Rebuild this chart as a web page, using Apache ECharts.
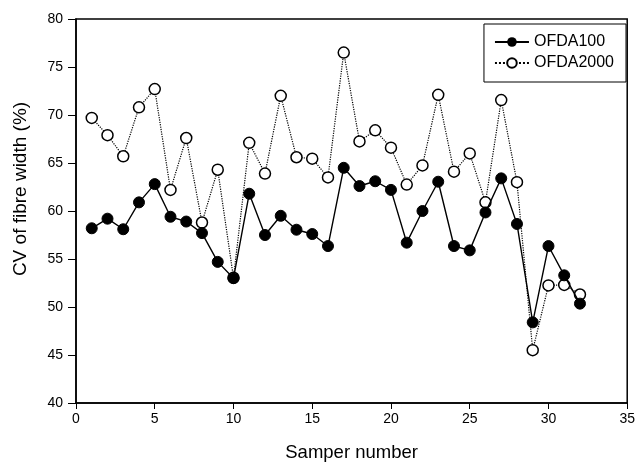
<!DOCTYPE html>
<html><head><meta charset="utf-8">
<script src="https://cdn.jsdelivr.net/npm/echarts@6/dist/echarts.min.js"></script>
<style>html,body{margin:0;padding:0;background:#fff}#c{width:638px;height:468px}</style>
</head><body><div id="c"></div>
<script>
const samples = [1,2,3,4,5,6,7,8,9,10,11,12,13,14,15,16,17,18,19,20,21,22,23,24,25,26,27,28,29,30,31,32];
const ofda100 = [58.2,59.2,58.1,60.9,62.8,59.4,58.9,57.7,54.7,53.0,61.8,57.5,59.5,58.05,57.6,56.35,64.5,62.6,63.1,62.2,56.7,60.0,63.05,56.35,55.9,59.85,63.4,58.65,48.4,56.35,53.3,50.35];
const ofda2000 = [69.7,67.9,65.7,70.8,72.7,62.2,67.6,58.8,64.3,53.05,67.1,63.9,72.0,65.6,65.45,63.5,76.5,67.25,68.4,66.6,62.75,64.75,72.1,64.1,66.0,60.9,71.55,63.0,45.5,52.25,52.3,51.3];
const xTitle = 'Samper number';
const yTitle = 'CV of fibre width (%)';
const font = 'Liberation Sans, Arial, sans-serif';
const chart = echarts.init(document.getElementById('c'));
const pair = a => samples.map((s,i)=>[s,a[i]]);
chart.setOption({
  animation:false,
  grid:{left:76,right:9,top:19,bottom:65,show:true,borderColor:'#000',borderWidth:1.5},
  legend:{
    right:12, top:24, orient:'vertical', itemGap:5,
    itemWidth:34, itemHeight:12, itemGap:5,
    borderColor:'#000', borderWidth:1, padding:[10,12,11,10],
    textStyle:{fontFamily:font,fontSize:16,color:'#000'},
    data:['OFDA100','OFDA2000']
  },
  xAxis:{type:'value',min:0,max:35,interval:5,
    name:xTitle,nameLocation:'middle',nameGap:40,
    nameTextStyle:{fontFamily:font,fontSize:18.5,color:'#000'},
    axisLine:{lineStyle:{color:'#000',width:1.5}},
    axisTick:{show:true,length:6,lineStyle:{color:'#000'}},
    axisLabel:{fontFamily:font,fontSize:14,color:'#000',margin:9},
    splitLine:{show:false}},
  yAxis:{type:'value',min:40,max:80,interval:5,
    name:yTitle,nameLocation:'middle',nameGap:46,
    nameTextStyle:{fontFamily:font,fontSize:19,color:'#000',padding:[0,0,0,44]},
    axisLine:{show:true,lineStyle:{color:'#000',width:1.5}},
    axisTick:{show:true,length:8,lineStyle:{color:'#000'}},
    axisLabel:{fontFamily:font,fontSize:14,color:'#000',margin:13},
    splitLine:{show:false}},
  series:[
    {name:'OFDA100',type:'line',data:pair(ofda100),symbol:'circle',symbolSize:11,
     lineStyle:{color:'#000',width:1.4},itemStyle:{color:'#000',borderColor:'#000'},z:3},
    {name:'OFDA2000',type:'line',data:pair(ofda2000),symbol:'circle',symbolSize:11,
     lineStyle:{color:'#000',width:1.2,type:'dotted'},itemStyle:{color:'#fff',borderColor:'#000',borderWidth:1.5},z:2}
  ]
});
</script></body></html>
